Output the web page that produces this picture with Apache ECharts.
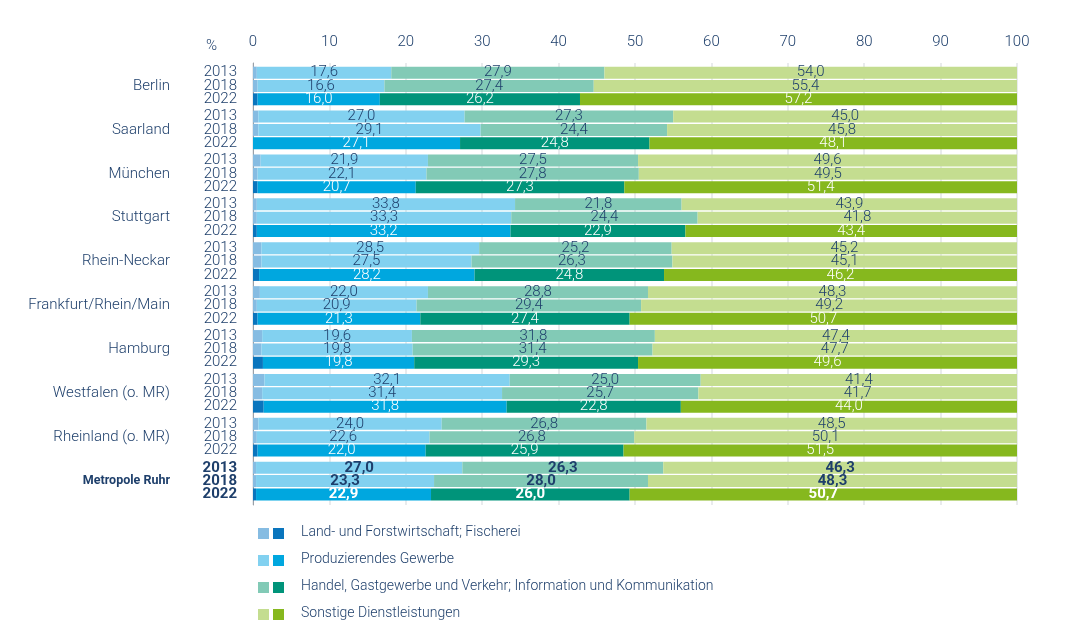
<!DOCTYPE html>
<html>
<head>
<meta charset="utf-8">
<script src="https://cdn.jsdelivr.net/npm/echarts@6/dist/echarts.min.js"></script>
<style>
  html, body { margin: 0; padding: 0; background: #fff; }
  #chart { width: 1080px; height: 632px; }
</style>
</head>
<body>
<div id="chart"></div>
<script>
// data (shares in %)
var years = ['2013', '2018', '2022'];
var regions = ['Berlin', 'Saarland', 'München', 'Stuttgart', 'Rhein-Neckar',
  'Frankfurt/Rhein/Main', 'Hamburg', 'Westfalen (o. MR)', 'Rheinland (o. MR)', 'Metropole Ruhr'];
var xTicks = [0, 10, 20, 30, 40, 50, 60, 70, 80, 90, 100];

var land = [[0.5, 0.6, 0.6], [0.7, 0.7, 0.0], [1.0, 0.6, 0.6], [0.5, 0.5, 0.5], [1.1, 1.1, 0.8],
  [0.9, 0.5, 0.6], [1.2, 1.1, 1.3], [1.5, 1.2, 1.4], [0.7, 0.5, 0.6], [0.4, 0.4, 0.4]];
var produz = [[17.6, 16.6, 16.0], [27.0, 29.1, 27.1], [21.9, 22.1, 20.7], [33.8, 33.3, 33.2], [28.5, 27.5, 28.2],
  [22.0, 20.9, 21.3], [19.6, 19.8, 19.8], [32.1, 31.4, 31.8], [24.0, 22.6, 22.0], [27.0, 23.3, 22.9]];
var handel = [[27.9, 27.4, 26.2], [27.3, 24.4, 24.8], [27.5, 27.8, 27.3], [21.8, 24.4, 22.9], [25.2, 26.3, 24.8],
  [28.8, 29.4, 27.4], [31.8, 31.4, 29.3], [25.0, 25.7, 22.8], [26.8, 26.8, 25.9], [26.3, 28.0, 26.0]];
var sonst = [[54.0, 55.4, 57.2], [45.0, 45.8, 48.1], [49.6, 49.5, 51.4], [43.9, 41.8, 43.4], [45.2, 45.1, 46.2],
  [48.3, 49.2, 50.7], [47.4, 47.7, 49.6], [41.4, 41.7, 44.0], [48.5, 50.1, 51.5], [46.3, 48.3, 50.7]];

var sectorNames = ['Land- und Forstwirtschaft; Fischerei', 'Produzierendes Gewerbe',
  'Handel, Gastgewerbe und Verkehr; Information und Kommunikation', 'Sonstige Dienstleistungen'];

// styling
var font = 'Roboto, "Liberation Sans", sans-serif';
var navy = '#1e3f6b';
var lightColors = ['#86bce2', '#82d1f0', '#82cab6', '#c4dd90'];
var darkColors = ['#0a75bd', '#00a7df', '#00947a', '#86b81e'];
var sectors = [land, produz, handel, sonst];

var plotLeft = 253, plotRight = 63;
var firstTop = 66, groupPitch = 43.9, groupHeight = 40;

var myChart = echarts.init(document.getElementById('chart'));

function fmt(v) {
  return v.toFixed(1).replace('.', ',');
}

var grids = [{ left: plotLeft, right: plotRight, top: 63, bottom: 127 }];
var xAxes = [{
  gridIndex: 0, type: 'value', position: 'top', min: 0, max: 100, interval: 10,
  axisLine: { show: false }, axisTick: { show: false },
  axisLabel: { margin: 13, color: navy, fontFamily: font, fontSize: 15, fontWeight: 300,
    formatter: function (v) { return xTicks.indexOf(v) >= 0 ? String(v) : ''; } },
  splitLine: { show: true, lineStyle: { color: '#e2e4e7', width: 1.5 } }
}];
var yAxes = [{
  gridIndex: 0, type: 'value', min: 0, max: 1,
  axisLine: { show: true, onZero: false, lineStyle: { color: '#9aa0a8', width: 1 } },
  axisTick: { show: false }, axisLabel: { show: false }, splitLine: { show: false }
}];
var series = [];

regions.forEach(function (region, r) {
  var g = r + 1;
  var isRuhr = region === 'Metropole Ruhr';
  grids.push({ left: plotLeft, right: plotRight, top: firstTop + groupPitch * r, height: groupHeight });
  xAxes.push({ gridIndex: g, type: 'value', min: 0, max: 100, show: false });
  // year labels
  yAxes.push({
    gridIndex: g, type: 'category', data: years, inverse: true,
    axisLine: { show: false }, axisTick: { show: false }, splitLine: { show: false },
    axisLabel: { interval: 0, hideOverlap: false, margin: 16, color: navy, fontFamily: font, fontSize: 15,
      fontWeight: isRuhr ? 'bold' : 300 }
  });
  // region name on the middle row
  yAxes.push({
    gridIndex: g, type: 'category', data: ['', region, ''], inverse: true, position: 'left', offset: 67,
    axisLine: { show: false }, axisTick: { show: false }, splitLine: { show: false },
    axisLabel: { interval: 0, hideOverlap: false, margin: 16, color: navy, fontFamily: font,
      fontSize: isRuhr ? 12.5 : 15, fontWeight: isRuhr ? 'bold' : 300 }
  });
  var yIdx = yAxes.length - 2;

  sectors.forEach(function (arr, s) {
    series.push({
      type: 'bar',
      name: sectorNames[s],
      xAxisIndex: g,
      yAxisIndex: yIdx,
      stack: 'g' + r,
      barWidth: 12,
      silent: true,
      data: arr[r].map(function (v, y) {
        var dark = years[y] === '2022';
        return {
          value: v,
          itemStyle: { color: dark ? darkColors[s] : lightColors[s] },
          label: {
            show: s > 0,
            position: 'inside',
            formatter: function (p) { return fmt(p.value); },
            color: dark ? '#ffffff' : navy,
            fontFamily: font,
            fontSize: 15,
            fontWeight: isRuhr ? 'bold' : 300
          }
        };
      })
    });
  });
});

// legend drawn as graphic: light + dark square, then name
var legendGraphic = [];
sectorNames.forEach(function (name, s) {
  var cy = 533.5 + 27 * s;
  legendGraphic.push({ type: 'rect', left: 258, top: cy - 5.5, shape: { width: 11, height: 11 },
    style: { fill: lightColors[s] } });
  legendGraphic.push({ type: 'rect', left: 273, top: cy - 5.5, shape: { width: 11, height: 11 },
    style: { fill: darkColors[s] } });
  legendGraphic.push({ type: 'text', left: 301, top: cy - 8,
    style: { text: name, fill: navy, font: '300 14px ' + font } });
});

option = {
  animation: false,
  title: {
    text: '%', left: 201, top: 34,
    textStyle: { color: navy, fontFamily: font, fontSize: 15, fontWeight: 300 }
  },
  grid: grids,
  xAxis: xAxes,
  yAxis: yAxes,
  series: series,
  graphic: legendGraphic
};

myChart.setOption(option);
window.addEventListener('resize', function () {
  if (myChart != null) {
    myChart.resize();
  }
});
</script>
</body>
</html>
